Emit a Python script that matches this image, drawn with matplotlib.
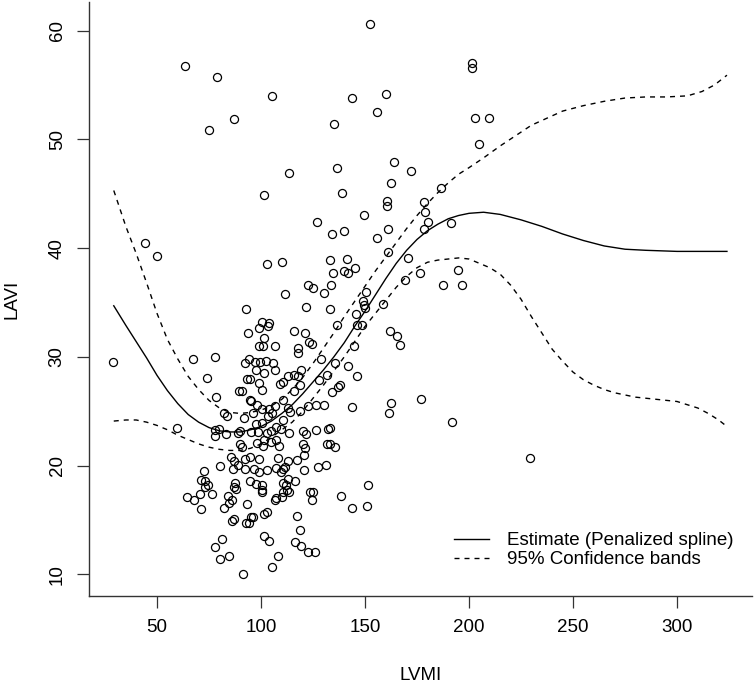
import matplotlib
matplotlib.use("Agg")
import matplotlib.pyplot as plt
from matplotlib.lines import Line2D

plt.rcParams['font.family'] = ['Liberation Sans', 'DejaVu Sans']

# Scatter data (LVMI, LAVI)
lvmi = [152.4, 63.6, 78.7, 201.5, 201.5, 105.5, 143.9, 160.1, 87.2, 75.2,
        155.7, 134.9, 203.0, 209.5, 204.7, 113.6, 136.3, 163.8, 172.1, 101.3,
        138.8, 162.6, 186.3, 160.5, 160.5, 178.5, 179.0, 180.3, 178.5, 191.3,
        170.7, 149.4, 127.0, 140.0, 134.0, 161.2, 155.9, 161.2, 44.2, 50.2,
        102.7, 110.1, 133.0, 141.3, 145.0, 139.8, 141.6, 134.4, 169.3, 176.3,
        194.5, 187.6, 196.6, 122.4, 124.9, 130.5, 133.5, 111.3, 121.7, 92.8,
        149.0, 149.4, 150.1, 150.6, 158.5, 133.0, 145.5, 100.4, 103.9, 99.2,
        103.2, 93.9, 116.0, 121.0, 101.6, 106.7, 99.2, 101.1, 123.1, 124.7,
        117.8, 117.8, 136.3, 146.0, 148.5, 144.8, 162.2, 165.4, 166.8, 67.1,
        78.0, 92.1, 94.4, 97.0, 99.7, 102.3, 105.7, 97.6, 106.9, 101.3,
        93.2, 94.9, 112.9, 115.9, 117.8, 119.4, 128.6, 135.8, 142.0, 131.6,
        146.0, 73.8, 99.2, 110.4, 109.2, 100.4, 115.9, 118.9, 134.0, 138.1,
        137.0, 127.7, 78.4, 89.3, 90.7, 94.6, 95.3, 98.1, 100.4, 103.9,
        106.7, 110.8, 113.1, 118.9, 126.4, 130.2, 143.9, 162.4, 161.7, 176.7,
        191.8, 229.5, 28.7, 59.5, 82.4, 83.8, 77.8, 79.6, 78.0, 83.1,
        88.9, 90.0, 91.9, 96.3, 97.4, 100.4, 95.3, 98.6, 102.7, 105.0,
        107.4, 109.7, 113.4, 120.1, 121.7, 101.6, 104.6, 107.4, 108.5, 101.1,
        98.3, 90.0, 90.7, 120.4, 121.1, 126.5, 132.1, 133.0, 131.6, 133.3,
        135.8, 110.8, 103.4, 105.5, 114.1, 122.4, 85.8, 87.2, 88.9, 80.3,
        92.3, 94.6, 99.2, 108.0, 113.0, 117.1, 120.8, 127.2, 131.2, 72.4,
        86.5, 92.3, 96.5, 99.2, 102.7, 107.4, 110.8, 111.6, 109.7, 120.8,
        71.0, 72.9, 74.5, 87.7, 87.2, 88.0, 94.6, 97.6, 100.4, 113.1,
        116.5, 110.8, 112.0, 112.7, 110.4, 113.6, 100.4, 100.4, 151.3, 76.6,
        70.5, 84.2, 86.1, 64.6, 68.0, 71.3, 93.2, 107.4, 106.9, 109.9,
        123.5, 124.9, 124.4, 138.3, 143.9, 150.8, 82.1, 87.2, 86.1, 101.6,
        102.7, 95.3, 94.2, 93.0, 117.3, 118.7, 81.0, 101.3, 103.9, 116.4,
        119.4, 122.8, 125.9, 78.0, 80.3, 84.7, 108.3, 105.5, 91.4, 73.0,
        84.8, 96.0]
lavi = [60.6, 56.7, 55.7, 57.0, 56.6, 54.0, 53.8, 54.2, 51.9, 50.9,
        52.5, 51.4, 52.0, 52.0, 49.6, 46.9, 47.4, 47.9, 47.1, 44.9,
        45.1, 46.0, 45.5, 44.3, 43.9, 44.2, 43.3, 42.4, 41.8, 42.3,
        39.1, 43.0, 42.4, 41.6, 41.3, 41.8, 40.9, 39.6, 40.5, 39.3,
        38.5, 38.7, 38.9, 39.0, 38.2, 37.9, 37.7, 37.7, 37.1, 37.7,
        38.0, 36.6, 36.6, 36.6, 36.3, 35.9, 36.6, 35.8, 34.6, 34.4,
        35.1, 34.8, 34.5, 36.0, 34.9, 34.4, 33.9, 33.2, 33.1, 32.7,
        32.8, 32.2, 32.4, 32.2, 31.7, 31.0, 31.0, 31.0, 31.4, 31.2,
        30.8, 30.4, 32.9, 32.9, 32.9, 31.0, 32.4, 31.9, 31.1, 29.8,
        30.0, 29.4, 29.8, 29.5, 29.5, 29.6, 29.4, 28.8, 28.8, 28.5,
        28.0, 28.0, 28.2, 28.3, 28.2, 28.8, 29.8, 29.4, 29.2, 28.3,
        28.2, 28.1, 27.6, 27.7, 27.5, 27.0, 26.9, 27.4, 26.8, 27.4,
        27.2, 27.9, 26.3, 26.9, 26.9, 26.0, 25.9, 25.6, 25.2, 25.2,
        25.5, 26.0, 25.3, 25.0, 25.6, 25.6, 25.4, 25.8, 24.8, 26.1,
        24.0, 20.7, 29.5, 23.5, 24.8, 24.6, 23.3, 23.4, 22.7, 22.9,
        23.0, 23.2, 24.4, 24.8, 23.8, 23.9, 23.1, 23.1, 23.0, 23.2,
        23.6, 23.4, 23.0, 23.2, 22.9, 22.4, 22.2, 22.4, 21.8, 21.8,
        22.1, 22.0, 21.7, 22.0, 21.6, 23.3, 23.4, 23.5, 22.0, 22.0,
        21.7, 24.2, 24.6, 24.8, 24.9, 25.5, 20.8, 20.4, 20.1, 20.0,
        20.6, 20.8, 20.6, 20.7, 20.4, 20.5, 21.0, 19.9, 20.1, 19.5,
        19.7, 19.7, 19.7, 19.4, 19.6, 19.8, 19.7, 19.9, 19.4, 19.6,
        18.7, 18.6, 18.2, 18.4, 18.0, 17.9, 18.6, 18.3, 18.2, 18.8,
        18.6, 18.4, 18.2, 17.8, 17.6, 17.6, 17.8, 17.6, 18.2, 17.4,
        17.4, 17.2, 16.8, 17.1, 16.8, 16.0, 16.5, 17.0, 16.8, 17.1,
        17.6, 17.6, 16.8, 17.2, 16.1, 16.3, 16.1, 15.1, 14.9, 15.6,
        15.7, 15.3, 14.7, 14.7, 15.4, 14.1, 13.3, 13.5, 13.1, 13.0,
        12.6, 12.1, 12.1, 12.5, 11.4, 11.7, 11.7, 10.7, 10.0, 18.0,
        16.6, 15.3]

# Penalized spline estimate
est_x = [29.2, 35, 40, 45, 50, 55, 60, 65, 70, 75, 80, 85, 90, 95, 100, 105,
         110, 115, 120, 125, 130, 135, 140, 145, 150, 155, 160, 165, 170, 175,
         180, 185, 190, 195, 200, 207, 215, 225, 235, 245, 255, 265, 275, 285,
         300, 324]
est_y = [34.7, 32.9, 31.4, 29.9, 28.3, 26.9, 25.7, 24.7, 24.0, 23.5, 23.2,
         23.1, 23.1, 23.3, 23.6, 24.1, 24.8, 25.6, 26.6, 27.7, 28.8, 30.0,
         31.3, 32.8, 34.2, 35.7, 37.2, 38.6, 39.8, 40.8, 41.6, 42.2, 42.7,
         43.0, 43.2, 43.3, 43.1, 42.6, 42.0, 41.3, 40.7, 40.2, 39.9, 39.8,
         39.7, 39.7]

# Upper 95% band
up_x = [29.2, 35, 40, 45, 50, 55, 60, 65, 70, 75, 80, 85, 90, 95, 100, 105,
        110, 115, 120, 125, 130, 135, 140, 145, 150, 155, 160, 165, 170, 175,
        180, 185, 190, 195, 200, 207, 215, 230, 245, 255, 265, 275, 285, 295,
        305, 312, 318, 324]
up_y = [45.3, 42.0, 39.5, 36.8, 34.0, 31.6, 29.8, 28.2, 27.0, 26.0, 25.3,
        24.9, 24.8, 24.9, 25.1, 25.5, 26.1, 27.0, 28.1, 29.4, 30.8, 32.2,
        33.7, 35.1, 36.5, 37.9, 39.2, 40.5, 41.8, 43.0, 44.1, 45.1, 46.0,
        46.8, 47.4, 48.3, 49.4, 51.3, 52.6, 53.1, 53.5, 53.8, 53.9, 53.9,
        54.0, 54.4, 55.0, 55.9]

# Lower 95% band
lo_x = [29.2, 35, 40, 45, 50, 55, 60, 65, 70, 75, 80, 85, 90, 95, 100, 105,
        110, 115, 120, 125, 130, 135, 140, 145, 150, 155, 160, 165, 170, 175,
        180, 185, 190, 195, 200, 205, 210, 215, 220, 225, 230, 235, 240, 245,
        250, 255, 260, 265, 270, 280, 290, 300, 305, 310, 315, 320, 324]
lo_y = [24.1, 24.2, 24.2, 24.0, 23.7, 23.3, 22.8, 22.4, 22.0, 21.7, 21.5,
        21.4, 21.4, 21.6, 22.0, 22.6, 23.3, 24.0, 25.0, 26.2, 27.4, 28.7,
        30.0, 31.4, 32.8, 34.0, 35.2, 36.4, 37.4, 38.2, 38.7, 38.9, 39.0,
        39.1, 39.0, 38.6, 38.2, 37.6, 36.6, 35.3, 33.7, 32.2, 30.7, 29.6,
        28.6, 27.9, 27.4, 27.0, 26.7, 26.3, 26.1, 25.9, 25.6, 25.3, 24.8,
        24.2, 23.6]

x_ticks = [50, 100, 150, 200, 250, 300]
y_ticks = [10, 20, 30, 40, 50, 60]

W, H = 754, 685
fig = plt.figure(figsize=(W / 100, H / 100), dpi=100)
left_px, right_px, top_px, bot_px = 88.8, 751.5, 2.1, 596.4
ax = fig.add_axes([left_px / W, 1 - bot_px / H,
                   (right_px - left_px) / W, (bot_px - top_px) / H])

fs = 13.5
ax.plot(lvmi, lavi, linestyle='none', marker='o', markersize=5.8,
        markerfacecolor='none', markeredgecolor='black', markeredgewidth=0.9)
ax.plot(est_x, est_y, color='black', linewidth=1.0, solid_joinstyle='round')
ax.plot(up_x, up_y, color='black', linewidth=1.0, dashes=(3.6, 3.6))
ax.plot(lo_x, lo_y, color='black', linewidth=1.0, dashes=(3.6, 3.6))

ax.set_xlim(17.2, 335.8)
ax.set_ylim(7.98, 62.62)
ax.set_xticks(x_ticks, [str(v) for v in x_ticks])
ax.set_yticks(y_ticks, [str(v) for v in y_ticks], rotation=90, va='center')
ax.tick_params(direction='out', length=8.6, width=0.9, labelsize=fs,
               color='#333333')
ax.tick_params(axis='x', pad=8)
ax.tick_params(axis='y', pad=8)
for s in ['top', 'right']:
    ax.spines[s].set_visible(False)
for s in ['left', 'bottom']:
    ax.spines[s].set_linewidth(1.0)
    ax.spines[s].set_color('#333333')

fig.text((left_px + right_px) / 2 / W, 1 - 676 / H, 'LVMI', ha='center',
         va='center', fontsize=fs)
fig.text(12 / W, 1 - (top_px + bot_px) / 2 / H, 'LAVI', ha='center',
         va='center', rotation=90, fontsize=fs)

handles = [Line2D([], [], color='black', linewidth=1.0),
           Line2D([], [], color='black', linewidth=1.0, dashes=(3.6, 3.6))]
ax.legend(handles, ['Estimate (Penalized spline)', '95% Confidence bands'],
          loc='upper left', bbox_to_anchor=(454 / W, 1 - 532 / H),
          bbox_transform=fig.transFigure, frameon=False, fontsize=fs,
          handlelength=1.87, handletextpad=0.96, labelspacing=0.1,
          borderpad=0, borderaxespad=0)

fig.savefig('out.png', dpi=100)
